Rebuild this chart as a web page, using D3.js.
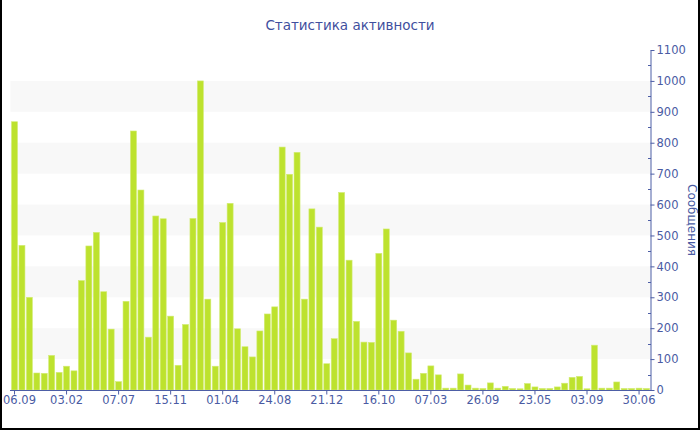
<!DOCTYPE html>
<html>
<head>
<meta charset="utf-8">
<script src="https://cdn.jsdelivr.net/npm/d3@7"></script>
<style>
  html, body { margin: 0; padding: 0; background: #fff; }
  svg { display: block; font-family: "DejaVu Sans", Verdana, sans-serif; }
</style>
</head>
<body>
<svg id="chart" width="700" height="430"></svg>
<script>
const titleText = "Статистика активности";
const yAxisTitle = "Сообщения";
const values = [868,468,300,55,54,112,57,77,62,354,
  466,510,318,197,27,287,838,647,171,563,
  554,239,80,212,555,1000,294,77,542,604,
  198,140,107,191,246,269,786,698,769,294,
  586,527,85,166,639,420,222,155,154,442,
  521,226,190,120,35,54,78,49,6,6,
  52,16,6,5,23,6,12,5,4,21,
  10,5,5,10,22,41,44,4,145,6,
  6,26,5,5,6,5];
const tickLabels = ["06.09","03.02","07.07","15.11","01.04","24.08","21.12","16.10","07.03","26.09","23.05","03.09","30.06"];
const tickEvery = 7;
const yTicks = [0,100,200,300,400,500,600,700,800,900,1000,1100];

const svg = d3.select("#chart");
const W = 700, H = 430;
const plot = { left: 10.5, right: 651, top: 50, bottom: 390 };
const axisColor = "#4d5ea6";
const textColor = "#4a5ba3";

const x = d3.scaleBand()
  .domain(d3.range(values.length))
  .range([10.8, 650.2])
  .padding(0);
const y = d3.scaleLinear().domain([0, 1100]).range([plot.bottom, plot.top]);

// alternate bands
const bandStarts = [100, 300, 500, 700, 900];
svg.append("g").selectAll("rect").data(bandStarts).join("rect")
  .attr("x", plot.left)
  .attr("width", plot.right - plot.left)
  .attr("y", d => y(d + 100))
  .attr("height", d => y(d) - y(d + 100))
  .attr("fill", "#f8f8f8");

// bars
const bw = 6;
svg.append("g").selectAll("rect").data(values).join("rect")
  .attr("x", (d, i) => x(i) + x.bandwidth() / 2 - bw / 2)
  .attr("width", bw)
  .attr("y", d => y(d))
  .attr("height", d => y(0) - y(d))
  .attr("fill", "#bde22e")
  .attr("stroke", "#d3ec76")
  .attr("stroke-width", 0.6);

// bottom axis
const tickIdx = tickLabels.map((t, k) => k * tickEvery);
const xAxis = d3.axisBottom(x)
  .tickValues(tickIdx)
  .tickFormat((d) => tickLabels[d / tickEvery])
  .tickSize(4)
  .tickSizeOuter(0);
const gx = svg.append("g").attr("transform", `translate(0,${plot.bottom})`).call(xAxis);
gx.select(".domain").remove();
gx.append("line").attr("x1", plot.left - 0.5).attr("x2", plot.right).attr("y1", 0.5).attr("y2", 0.5)
  .attr("stroke", axisColor).attr("stroke-width", 1);
gx.selectAll(".tick line").attr("stroke", axisColor).attr("transform", "translate(0,0.5)");
gx.selectAll(".tick text").attr("fill", textColor).attr("font-size", 11.5)
  .attr("font-family", "'DejaVu Sans', Verdana, sans-serif").attr("dy", "0.75em").attr("y", 5);
// keep the first label inside the frame
gx.selectAll(".tick text").filter(d => d === 0).attr("dx", 5);

// right axis
const yMinor = d3.range(50, 1100, 100);
svg.append("g").selectAll("line").data(yMinor).join("line")
  .attr("x1", plot.right - 3).attr("x2", plot.right)
  .attr("y1", d => Math.round(y(d)) + 0.5).attr("y2", d => Math.round(y(d)) + 0.5)
  .attr("stroke", axisColor).attr("stroke-width", 1);
const yAxis = d3.axisRight(y).tickValues(yTicks).tickSize(4).tickSizeOuter(0).tickFormat(d3.format("d"));
const gy = svg.append("g").attr("transform", `translate(${plot.right - 0.5},0)`).call(yAxis);
gy.select(".domain").attr("stroke", axisColor);
gy.selectAll(".tick line").attr("stroke", axisColor);
gy.selectAll(".tick text").attr("fill", textColor).attr("font-size", 11.5)
  .attr("font-family", "'DejaVu Sans', Verdana, sans-serif").attr("x", 6);

// axis title
svg.append("text")
  .attr("transform", `translate(688,${(plot.top + plot.bottom) / 2}) rotate(90)`)
  .attr("text-anchor", "middle")
  .attr("fill", textColor)
  .attr("font-size", 12)
  .text(yAxisTitle);

// chart title
svg.append("text")
  .attr("x", 350).attr("y", 30)
  .attr("text-anchor", "middle")
  .attr("fill", "#3f4f9e")
  .attr("font-size", 13.5)
  .text(titleText);

// frame (left, right, bottom)
svg.append("path")
  .attr("d", `M1,0 V${H - 1} H${W - 1} V0`)
  .attr("fill", "none")
  .attr("stroke", "#000")
  .attr("stroke-width", 2);
</script>
</body>
</html>
